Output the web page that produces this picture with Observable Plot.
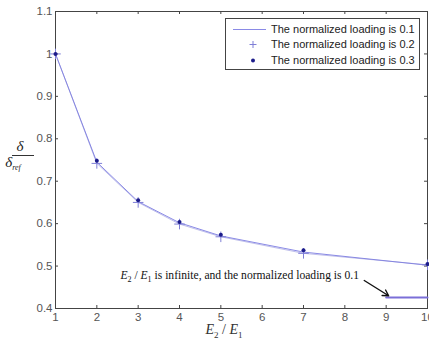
<!DOCTYPE html>
<html>
<head>
<meta charset="utf-8">
<script src="https://cdn.jsdelivr.net/npm/d3@7"></script>
<script src="https://cdn.jsdelivr.net/npm/@observablehq/plot@0.6"></script>
<style>
  html, body { margin: 0; padding: 0; background: #fff; }
  #wrap { position: relative; width: 429px; height: 343px; overflow: hidden; }
  #legend { position: absolute; left: 225px; top: 18px; width: 193px; height: 50px;
    border: 1px solid #444; background: #fff; font-family: Arial, "Liberation Sans", sans-serif;
    font-size: 11px; color: #222; }
  #legend .row { position: absolute; left: 0; height: 15px; width: 100%; }
  #legend .row span { position: absolute; left: 45px; top: 0; line-height: 15px; white-space: nowrap; }
  #legend svg { position: absolute; left: 6px; top: 0; }
</style>
</head>
<body>
<div id="wrap"></div>
<script>
// ---- data ----
const ratios = [1, 2, 3, 4, 5, 7, 10];                 // E2/E1
const load01 = [1.0, 0.745, 0.652, 0.602, 0.571, 0.533, 0.502];
const load02 = [1.0, 0.742, 0.650, 0.599, 0.569, 0.530, 0.503];
const load03 = [1.0, 0.748, 0.655, 0.604, 0.574, 0.537, 0.505];
const infRange = [9, 10];                               // x extent of infinite case segment
const infValue = 0.426;
const xTicks = [1, 2, 3, 4, 5, 6, 7, 8, 9, 10];
const yTicks = [0.4, 0.5, 0.6, 0.7, 0.8, 0.9, 1.0, 1.1];
const yTickLabels = ["0.4", "0.5", "0.6", "0.7", "0.8", "0.9", "1", "1.1"];
const legendLabels = ["The normalized loading is 0.1", "The normalized loading is 0.2", "The normalized loading is 0.3"];
const noteText = "E2 / E1 is infinite, and the normalized loading is 0.1";
const notePos = {x: 2.57, y: 0.47};
const arrowFrom = {x: 8.47, y: 0.466};
const arrowTo = {x: 9.06, y: 0.43};

const s1 = ratios.map((x, i) => ({x, y: load01[i]}));
const s2 = ratios.map((x, i) => ({x, y: load02[i]}));
const s3 = ratios.map((x, i) => ({x, y: load03[i]}));
const inf = infRange.map(x => ({x, y: infValue}));

const lineColor = "#8a8ae6";
const plusColor = "#7f7fd6";
const dotColor = "#1c1c8a";
const tickLen = 3;
const xPerPx = 9 / (429 - 55 - 2);
const yPerPx = 0.7 / (343 - 11 - 35);

const chart = Plot.plot({
  width: 429,
  height: 343,
  marginLeft: 55,
  marginRight: 2,
  marginTop: 11,
  marginBottom: 35,
  style: {fontFamily: "Arial, 'Liberation Sans', sans-serif", fontSize: "11px", color: "#555", background: "#fff"},
  x: {domain: [1, 10]},
  y: {domain: [0.4, 1.1]},
  marks: [
    Plot.axisX({ticks: xTicks, tickSize: 0, tickPadding: 4, label: null, fontSize: 11.5, fill: "#555"}),
    Plot.axisY({ticks: yTicks, tickFormat: (d) => yTickLabels[yTicks.indexOf(d)], tickSize: 0, tickPadding: 3, label: null, fontSize: 11.5, fill: "#555"}),
    // inward ticks
    Plot.ruleX(xTicks, {x: d => d, y1: 0.4, y2: 0.4 + tickLen * yPerPx, stroke: "#444"}),
    Plot.ruleX(xTicks, {x: d => d, y1: 1.1, y2: 1.1 - tickLen * yPerPx, stroke: "#444"}),
    Plot.ruleY(yTicks, {y: d => d, x1: 1, x2: 1 + tickLen * xPerPx, stroke: "#444"}),
    Plot.ruleY(yTicks, {y: d => d, x1: 10, x2: 10 - tickLen * xPerPx, stroke: "#444"}),
    Plot.frame({stroke: "#444"}),
    Plot.line(s1, {x: "x", y: "y", stroke: lineColor, strokeWidth: 1}),
    Plot.line(s2, {x: "x", y: "y", stroke: plusColor, strokeWidth: 1, strokeOpacity: 0.5}),
    Plot.dot(s2, {x: "x", y: "y", symbol: "plus", r: 3.5, stroke: plusColor, strokeWidth: 1}),
    Plot.dot(s3, {x: "x", y: "y", r: 2, fill: dotColor, stroke: "none"}),
    Plot.line(inf, {x: "x", y: "y", stroke: "#7b6fd8", strokeWidth: 2}),
    Plot.text([notePos], {x: "x", y: "y", text: () => noteText, textAnchor: "start", lineAnchor: "bottom",
      fontFamily: "'Liberation Serif', 'DejaVu Serif', serif", fontSize: 11.6, fill: "#111", className: "note"}),
    Plot.arrow([{x1: arrowFrom.x, y1: arrowFrom.y, x2: arrowTo.x, y2: arrowTo.y}],
      {x1: "x1", y1: "y1", x2: "x2", y2: "y2", stroke: "#111", strokeWidth: 1.4, headLength: 7})
  ]
});

const wrap = document.getElementById("wrap");
wrap.appendChild(chart);

// rich text for annotation
const svg = d3.select(chart);
const serif = "'Liberation Serif', 'DejaVu Serif', serif";
svg.selectAll("g.note text").each(function() {
  const t = d3.select(this);
  t.text(null);
  t.append("tspan").attr("font-style", "italic").text("E");
  t.append("tspan").attr("font-size", 8).attr("dy", 3).text("2");
  t.append("tspan").attr("dy", -3).text(" / ");
  t.append("tspan").attr("font-style", "italic").text("E");
  t.append("tspan").attr("font-size", 8).attr("dy", 3).text("1");
  t.append("tspan").attr("dy", -3).text(" is infinite, and the normalized loading is 0.1");
});

// x axis label
const xl = svg.append("text").attr("x", 224).attr("y", 334).attr("font-family", serif)
  .attr("font-size", 14).attr("fill", "#333");
xl.append("tspan").attr("font-style", "italic").text("E");
xl.append("tspan").attr("font-size", 9).attr("dy", 4).text("2");
xl.append("tspan").attr("dy", -4).text(" / ");
xl.append("tspan").attr("font-style", "italic").text("E");
xl.append("tspan").attr("font-size", 9).attr("dy", 4).text("1");

// y axis label (fraction)
const yl = svg.append("g").attr("font-family", serif).attr("fill", "#222");
yl.append("text").attr("x", 20).attr("y", 151).attr("text-anchor", "middle").attr("font-size", 15)
  .attr("font-style", "italic").text("δ");
yl.append("line").attr("x1", 12).attr("x2", 34).attr("y1", 155.5).attr("y2", 155.5).attr("stroke", "#333").attr("stroke-width", 1);
const den = yl.append("text").attr("x", 13).attr("y", 167).attr("font-size", 15);
den.append("tspan").attr("font-style", "italic").text("δ");
den.append("tspan").attr("font-size", 8).attr("dy", 3).attr("font-style", "italic").text("ref");

// legend
const legend = document.createElement("div");
legend.id = "legend";
const rowsTop = [3, 18, 34];
legendLabels.forEach((lab, i) => {
  const row = document.createElement("div");
  row.className = "row";
  row.style.top = rowsTop[i] + "px";
  let sym = "";
  if (i === 0) sym = `<svg width="36" height="15"><line x1="1" x2="34" y1="7.5" y2="7.5" stroke="${lineColor}" stroke-width="1"/></svg>`;
  if (i === 1) sym = `<svg width="36" height="15"><path d="M21,4V11M17.5,7.5H24.5" stroke="${plusColor}" stroke-width="1"/></svg>`;
  if (i === 2) sym = `<svg width="36" height="15"><circle cx="21" cy="7.5" r="2" fill="${dotColor}"/></svg>`;
  row.innerHTML = sym + `<span>${lab}</span>`;
  legend.appendChild(row);
});
wrap.appendChild(legend);
</script>
</body>
</html>
